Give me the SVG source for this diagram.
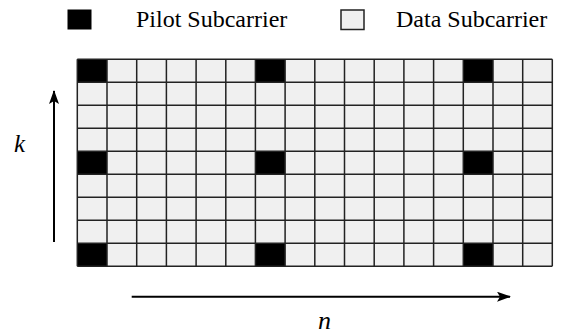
<svg xmlns="http://www.w3.org/2000/svg" width="569" height="336" viewBox="0 0 569 336" font-family="Liberation Serif, Times New Roman, serif">
<style>
text{font-family:"Liberation Serif","Times New Roman",serif !important}
</style>
<defs>
<marker id="ah" viewBox="0 0 14 10" refX="13" refY="5" markerWidth="14" markerHeight="10" markerUnits="userSpaceOnUse" orient="auto">
<path d="M0,0 L14,5 L0,10 L3,5 Z" fill="#000"/>
</marker>
</defs>
<rect width="569" height="336" fill="#fff"/>
<g id="legend-pilot">
<rect x="67.5" y="9.5" width="24" height="20" fill="#000"/>
<text x="136" y="27" font-size="24" font-family="Times New Roman">Pilot Subcarrier</text>
</g>
<g id="legend-data">
<rect x="341" y="10" width="23" height="19.5" fill="#f0f0f0" stroke="#222" stroke-width="1.5"/>
<text x="396" y="27" font-size="24" font-family="Times New Roman">Data Subcarrier</text>
</g>
<g id="grid">
<rect x="77.3" y="59.3" width="475" height="207" fill="#f0f0f0"/>
<g id="pilots" fill="#000">
<rect x="77.3" y="59.3" width="29.69" height="23"/>
<rect x="255.4" y="59.3" width="29.69" height="23"/>
<rect x="463.3" y="59.3" width="29.69" height="23"/>
<rect x="77.3" y="151.3" width="29.69" height="23"/>
<rect x="255.4" y="151.3" width="29.69" height="23"/>
<rect x="463.3" y="151.3" width="29.69" height="23"/>
<rect x="77.3" y="243.3" width="29.69" height="23"/>
<rect x="255.4" y="243.3" width="29.69" height="23"/>
<rect x="463.3" y="243.3" width="29.69" height="23"/>
</g>
<g id="lines" stroke="#222" stroke-width="1.5">
<path d="M77.3,59.3H552.3M77.3,82.3H552.3M77.3,105.3H552.3M77.3,128.3H552.3M77.3,151.3H552.3M77.3,174.3H552.3M77.3,197.3H552.3M77.3,220.3H552.3M77.3,243.3H552.3M77.3,266.3H552.3"/>
<path d="M77.3,59.3V266.3M107,59.3V266.3M136.7,59.3V266.3M166.4,59.3V266.3M196.1,59.3V266.3M225.8,59.3V266.3M255.4,59.3V266.3M285.1,59.3V266.3M314.8,59.3V266.3M344.5,59.3V266.3M374.2,59.3V266.3M403.9,59.3V266.3M433.6,59.3V266.3M463.3,59.3V266.3M493,59.3V266.3M522.7,59.3V266.3M552.3,59.3V266.3"/>
</g>
</g>
<g id="connectors" stroke="#000" stroke-width="2" fill="none">
<line x1="54" y1="242" x2="54" y2="91" marker-end="url(#ah)"/>
<line x1="131.7" y1="296.7" x2="510" y2="296.7" marker-end="url(#ah)"/>
</g>
<g id="axis-k">
<text x="14" y="151.5" font-size="25" font-style="italic" font-family="Times New Roman">k</text>
</g>
<g id="axis-n">
<text x="318" y="329.3" font-size="26" font-style="italic" font-family="Times New Roman">n</text>
</g>
</svg>
